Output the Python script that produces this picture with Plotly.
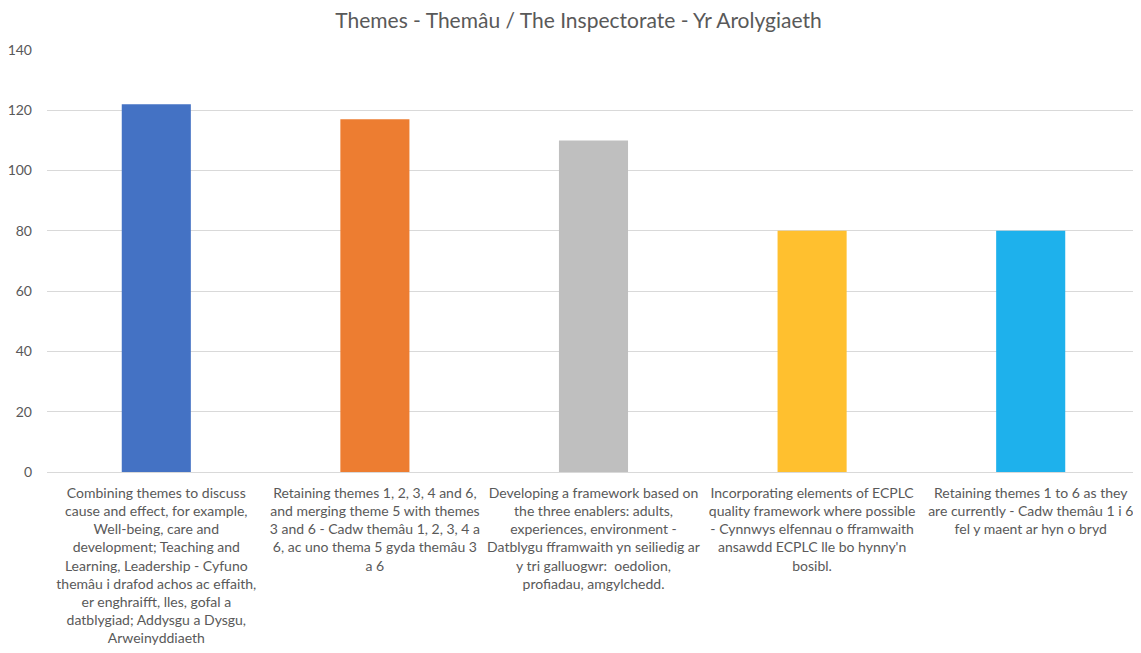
import plotly.graph_objects as go

categories = [
    "Combining themes to discuss<br>cause and effect, for example,<br>Well-being, care and<br>development; Teaching and<br>Learning, Leadership - Cyfuno<br>themâu i drafod achos ac effaith,<br>er enghraifft, lles, gofal a<br>datblygiad; Addysgu a Dysgu,<br>Arweinyddiaeth",
    "Retaining themes 1, 2, 3, 4 and 6,<br>and merging theme 5 with themes<br>3 and 6 - Cadw themâu 1, 2, 3, 4 a<br>6, ac uno thema 5 gyda themâu 3<br>a 6",
    "Developing a framework based on<br>the three enablers: adults,<br>experiences, environment -<br>Datblygu fframwaith yn seiliedig ar<br>y tri galluogwr:  oedolion,<br>profiadau, amgylchedd.",
    "Incorporating elements of ECPLC<br>quality framework where possible<br>- Cynnwys elfennau o fframwaith<br>ansawdd ECPLC lle bo hynny'n<br>bosibl.",
    "Retaining themes 1 to 6 as they<br>are currently - Cadw themâu 1 i 6<br>fel y maent ar hyn o bryd",
]
values = [122, 117, 110, 80, 80]
colors = ["#4472C4", "#ED7D31", "#BFBFBF", "#FFC02F", "#1EB1EC"]
title = "Themes - Themâu / The Inspectorate - Yr Arolygiaeth"

fig = go.Figure(go.Bar(
    x=list(range(len(categories))),
    y=values,
    marker=dict(color=colors, line=dict(width=0)),
    width=0.316,
))

font_family = "Lato, Carlito, 'Open Sans', sans-serif"
fig.update_layout(
    width=1141, height=653,
    margin=dict(l=39, r=9, t=42, b=189, autoexpand=False),
    paper_bgcolor="white", plot_bgcolor="white",
    title=dict(text=title, x=0.5, xanchor="center", y=0.980, yanchor="middle",
               font=dict(family=font_family, size=21, color="#595959"),
               automargin=False),
    font=dict(family=font_family, color="#595959"),
    showlegend=False,
)
fig.update_xaxes(
    tickvals=list(range(len(categories))),
    ticktext=categories,
    tickangle=0,
    range=[-0.5, 4.5],
    showgrid=False,
    showline=True, linecolor="#d9d9d9", linewidth=1,
    tickfont=dict(size=14, color="#595959"),
    ticks="", ticklabelstandoff=8,
    automargin=False,
)
fig.update_yaxes(
    range=[0, 140], dtick=20,
    showgrid=True, gridcolor="#d9d9d9", gridwidth=1,
    zeroline=True, zerolinecolor="#d9d9d9", zerolinewidth=1,
    tickfont=dict(size=14, color="#595959"),
    ticks="", ticklabelstandoff=14,
    automargin=False,
)

fig.write_html("out.html")
